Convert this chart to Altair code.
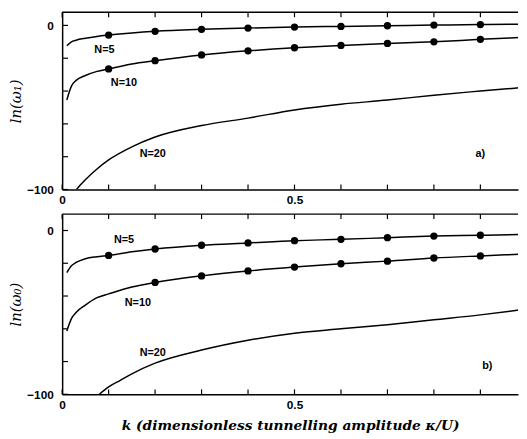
import altair as alt
import pandas as pd

# ---------------- data ----------------
K_CURVE = [0.01, 0.02, 0.03, 0.05, 0.075, 0.1, 0.15, 0.2, 0.3, 0.4, 0.5, 0.6, 0.7, 0.8, 0.9, 0.985]

# panel a) ln(omega_1)
a_n5 = [-12.4, -10.0, -9.0, -7.8, -6.7, -5.9, -4.6, -3.6, -2.4, -1.6, -1.0, -0.6, -0.2, 0.2, 0.5, 0.7]
a_n10 = [-45.5, -37.0, -33.5, -30.5, -28.0, -26.5, -23.5, -21.5, -18.0, -15.5, -13.6, -12.2, -11.0, -10.0, -8.5, -7.4]
k_a20 = [0.031, 0.04, 0.05, 0.075, 0.1, 0.15, 0.2, 0.3, 0.4, 0.5, 0.6, 0.7, 0.8, 0.9, 0.985]
a_n20 = [-100, -97, -94, -87.5, -82, -74, -68, -61, -56.5, -51.5, -48, -45.5, -42.5, -40, -38]

# panel b) ln(omega_0)
b_n5 = [-25.7, -21.5, -19.5, -17.2, -16.0, -15.2, -13.0, -11.3, -9.0, -7.6, -6.2, -5.4, -4.4, -3.4, -2.9, -2.5]
b_n10 = [-61.4, -53.8, -50.0, -45.5, -41.0, -38.7, -34.5, -31.7, -27.7, -24.7, -22.3, -20.3, -18.7, -16.8, -15.5, -14.5]
k_b20 = [0.08, 0.1, 0.125, 0.15, 0.2, 0.3, 0.4, 0.5, 0.6, 0.7, 0.8, 0.9, 0.985]
b_n20 = [-100, -95.5, -91.5, -87.5, -81, -73, -67, -62.7, -60, -57.5, -54.5, -51.5, -48.5]

# dots
K_DOTS = [0.1, 0.2, 0.3, 0.4, 0.5, 0.6, 0.7, 0.8, 0.9]
dots_a5 = [-5.9, -3.6, -2.4, -1.6, -1.0, -0.6, -0.2, 0.2, 0.5]
dots_a10 = [-26.5, -21.5, -18.0, -15.5, -13.6, -12.2, -11.0, -10.0, -8.5]
dots_b5 = [-15.2, -11.3, -9.0, -7.6, -6.2, -5.4, -4.4, -3.4, -2.9]
K_DOTS_B10 = [0.2, 0.3, 0.4, 0.5, 0.6, 0.7, 0.8, 0.9]
dots_b10 = [-31.7, -27.7, -24.7, -22.3, -20.3, -18.7, -16.8, -15.5]

# curve labels
lab_text_a = ["N=5", "N=10", "N=20", "a)"]
lab_k_a = [0.091, 0.133, 0.195, 0.90]
lab_v_a = [-15.0, -35.4, -78.6, -78.6]
lab_text_b = ["N=5", "N=10", "N=20", "b)"]
lab_k_b = [0.133, 0.163, 0.195, 0.915]
lab_v_b = [-6.0, -44.0, -74.7, -82.5]

# axis ticks
X_TICKS = [0, 0.1, 0.2, 0.3, 0.4, 0.5, 0.6, 0.7, 0.8, 0.9]
X_LABELS = [0, 0.5]
Y_TICKS = [-100, -80, -60, -40, -20, 0]
Y_LABELS = [-100, 0]

W = 463
X_MAX = 0.981


def curves_df(pairs):
    rows = []
    for name, ks, vs in pairs:
        for k, v in zip(ks, vs):
            rows.append({"N": name, "k": k, "v": v})
    return pd.DataFrame(rows)


def panel(lines, dots, labels, ymax, height, ytitle, xtitle):
    xscale = alt.Scale(domain=[0, X_MAX], nice=False, zero=False)
    yscale = alt.Scale(domain=[-100, ymax], nice=False, zero=False)
    xkw = dict(values=X_LABELS, tickSize=0, grid=False, domain=True, domainColor="black",
               domainWidth=1.5, labelFlush=False, labelFont="Liberation Sans",
               labelFontWeight="bold", labelFontSize=12, labelColor="black", labelPadding=5,
               format="g")
    if xtitle:
        xaxis = alt.Axis(title=xtitle, titleFont="DejaVu Serif", titleFontStyle="italic",
                         titleFontWeight="bold", titleFontSize=14, titleColor="black",
                         titlePadding=9, **xkw)
    else:
        xaxis = alt.Axis(title=None, **xkw)
    yaxis = alt.Axis(values=Y_LABELS, tickSize=0, grid=False, domain=True, domainColor="black",
                     domainWidth=1.5, labelFont="Liberation Sans", labelFontWeight="bold",
                     labelFontSize=12, labelColor="black", labelPadding=9, format="d",
                     title=ytitle, titleFont="DejaVu Serif", titleFontStyle="italic",
                     titleFontWeight="normal", titleFontSize=15, titleColor="black", titlePadding=3)

    base_lines = alt.Chart(lines).mark_line(color="black", strokeWidth=1.5, interpolate="monotone",
                                            clip=True).encode(
        x=alt.X("k:Q", scale=xscale, axis=xaxis),
        y=alt.Y("v:Q", scale=yscale, axis=yaxis),
        detail="N:N",
    )
    pts = alt.Chart(dots).mark_circle(color="black", opacity=1, size=55).encode(
        x=alt.X("k:Q", scale=xscale), y=alt.Y("v:Q", scale=yscale)
    )
    txt = alt.Chart(labels).mark_text(font="Liberation Sans", fontWeight="bold", fontSize=11,
                                      color="black", align="center", baseline="middle").encode(
        x=alt.X("k:Q", scale=xscale), y=alt.Y("v:Q", scale=yscale), text="t:N"
    )
    ytick = alt.Chart(pd.DataFrame({"v": Y_TICKS})).mark_rule(color="black", strokeWidth=1.2).encode(
        y=alt.Y("v:Q", scale=yscale), x=alt.value(0), x2=alt.value(6)
    )
    xtick_b = alt.Chart(pd.DataFrame({"k": X_TICKS})).mark_rule(color="black", strokeWidth=1.2).encode(
        x=alt.X("k:Q", scale=xscale), y=alt.value(height), y2=alt.value(height - 5)
    )
    xtick_t = alt.Chart(pd.DataFrame({"k": X_TICKS})).mark_rule(color="black", strokeWidth=1.2).encode(
        x=alt.X("k:Q", scale=xscale), y=alt.value(0), y2=alt.value(5)
    )
    top = alt.Chart(pd.DataFrame({"k": [0]})).mark_rule(color="black", strokeWidth=1.5).encode(
        x=alt.value(0), x2=alt.value(W), y=alt.value(0)
    )
    return alt.layer(base_lines, pts, txt, ytick, xtick_b, xtick_t, top).properties(
        width=W, height=height
    )


lines_a = curves_df([("5", K_CURVE, a_n5), ("10", K_CURVE, a_n10), ("20", k_a20, a_n20)])
dots_a = curves_df([("5", K_DOTS, dots_a5), ("10", K_DOTS, dots_a10)])
labs_a = pd.DataFrame({"t": lab_text_a, "k": lab_k_a, "v": lab_v_a})

lines_b = curves_df([("5", K_CURVE, b_n5), ("10", K_CURVE, b_n10), ("20", k_b20, b_n20)])
dots_b = curves_df([("5", K_DOTS, dots_b5), ("10", K_DOTS_B10, dots_b10)])
labs_b = pd.DataFrame({"t": lab_text_b, "k": lab_k_b, "v": lab_v_b})

pa = panel(lines_a, dots_a, labs_a, 8, 180, "ln(ω₁)", None)
pb = panel(lines_b, dots_b, labs_b, 10, 183, "ln(ω₀)",
           "k (dimensionless tunnelling amplitude κ/U)")

chart = alt.vconcat(pa, pb, spacing=8).resolve_scale(x="independent", y="independent").properties(
    padding={"left": 0, "top": 0, "right": 0, "bottom": 0},
    background="white",
).configure_view(stroke=None)

chart.save("out.html", embed_options={"renderer": "svg", "actions": False})
